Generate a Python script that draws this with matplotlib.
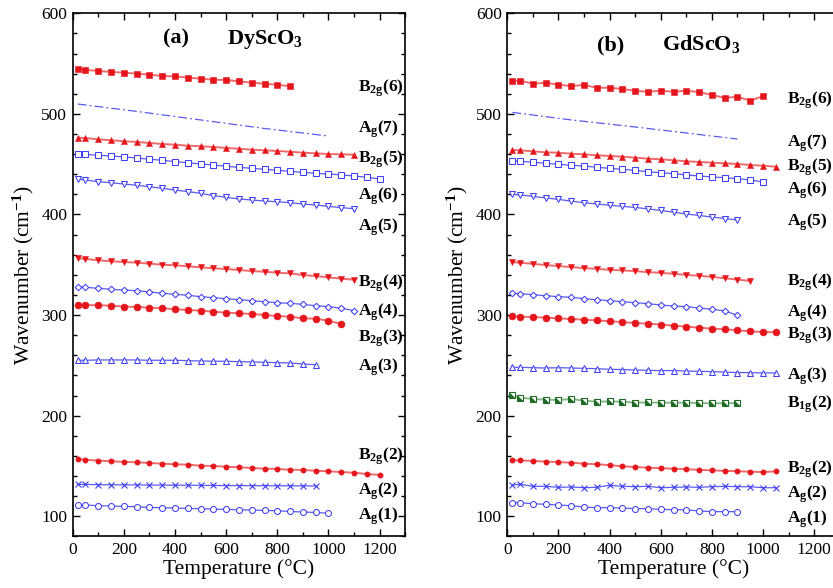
import matplotlib
matplotlib.use("Agg")
import matplotlib.pyplot as plt
from matplotlib.ticker import MultipleLocator

plt.rcParams['font.family'] = ['Liberation Serif', 'DejaVu Serif']
plt.rcParams['mathtext.fontset'] = 'custom'
plt.rcParams['mathtext.rm'] = 'Liberation Serif'
plt.rcParams['mathtext.it'] = 'Liberation Serif:italic'
plt.rcParams['mathtext.bf'] = 'Liberation Serif:bold'

# ---------------- data ----------------
TEMPS = [20, 50, 100, 150, 200, 250, 300, 350, 400, 450, 500, 550, 600, 650,
         700, 750, 800, 850, 900, 950, 1000, 1050, 1100, 1150, 1200]

# (a) DyScO3
dy_B2g6 = [544.6, 543.7, 542.7, 541.7, 541.0, 540.0, 539.0, 537.7, 537.4, 536.0,
           535.0, 534.0, 533.7, 532.4, 531.0, 530.0, 529.0, 527.4]
dy_Ag7_T = [20, 250, 500, 750, 1000]
dy_Ag7 = [509.8, 502.5, 494.0, 485.5, 478.0]
dy_B2g5 = [476.3, 476.0, 474.7, 473.8, 472.8, 472.1, 471.1, 470.1, 469.4, 468.4,
           467.8, 467.1, 466.1, 465.4, 464.4, 463.8, 463.1, 462.4, 461.4, 460.8,
           460.1, 459.8, 459.4]
dy_Ag6 = [460.1, 459.8, 458.8, 458.2, 457.2, 456.2, 454.9, 453.9, 452.5, 451.5,
          450.2, 449.2, 447.9, 446.9, 445.9, 444.9, 443.9, 442.9, 441.9, 440.9,
          440.3, 439.3, 438.3, 437.0, 435.3]
dy_Ag5 = [435.0, 434.3, 432.6, 431.6, 430.3, 429.0, 427.6, 426.0, 424.3, 422.7,
          421.1, 418.7, 417.1, 415.4, 414.4, 413.4, 412.7, 411.7, 410.4, 409.4,
          408.1, 406.8, 405.8]
dy_B2g4 = [356.5, 355.8, 354.5, 353.5, 352.8, 352.1, 351.1, 350.1, 349.5, 348.5,
           347.5, 346.5, 345.8, 344.8, 343.8, 343.1, 342.1, 341.5, 339.8, 338.8,
           337.5, 336.2, 335.2]
dy_Ag4 = [328.2, 327.6, 326.6, 325.6, 324.9, 324.3, 323.0, 321.7, 320.7, 319.7,
          318.3, 317.3, 316.3, 315.3, 314.3, 313.3, 312.3, 311.7, 310.7, 309.3,
          308.4, 306.8, 304.4]
dy_B2g3 = [310.0, 310.0, 309.7, 309.4, 308.4, 308.1, 307.4, 306.8, 305.8, 305.1,
           304.4, 303.4, 302.4, 301.8, 301.1, 300.1, 299.1, 298.4, 296.8, 296.4,
           294.4, 291.2]
dy_Ag3 = [255.1, 255.1, 255.4, 255.4, 255.4, 255.4, 255.1, 255.1, 255.1, 254.7,
          254.4, 254.1, 254.1, 253.7, 253.4, 253.1, 252.7, 252.4, 251.4, 250.7]
dy_B2g2 = [156.7, 156.3, 155.3, 154.7, 154.0, 153.7, 153.0, 152.3, 151.7, 151.3,
           150.3, 150.0, 149.3, 148.7, 148.0, 147.3, 147.0, 146.3, 146.0, 145.3,
           144.7, 144.0, 143.3, 142.0, 141.1]
dy_Ag2 = [131.8, 131.7, 131.4, 131.3, 131.2, 131.2, 131.0, 131.0, 130.9, 130.9,
          130.7, 130.7, 130.5, 130.5, 130.4, 130.4, 130.3, 130.3, 130.2, 130.1]
dy_Ag1 = [111.5, 111.2, 110.5, 110.2, 109.8, 109.5, 108.8, 108.5, 108.2, 107.8,
          107.5, 107.2, 106.8, 106.5, 106.2, 105.8, 105.5, 104.8, 104.2, 103.8,
          103.0]

# (b) GdScO3
gd_B2g6 = [532.7, 533.0, 530.0, 531.0, 529.0, 527.7, 528.7, 526.0, 526.0, 524.7,
           523.0, 522.0, 523.0, 522.0, 523.0, 521.7, 518.7, 516.0, 517.0, 513.1,
           517.7]
gd_Ag7_T = [20, 250, 500, 750, 900]
gd_Ag7 = [501.5, 494.0, 487.0, 479.5, 475.0]
gd_B2g5 = [464.1, 463.8, 462.8, 461.8, 461.4, 460.4, 459.8, 458.8, 458.2, 457.5,
           456.5, 455.5, 454.9, 453.9, 452.9, 452.2, 451.5, 450.9, 450.2, 449.2,
           448.5, 447.5]
gd_Ag6 = [453.5, 452.9, 451.9, 450.9, 449.9, 448.9, 448.2, 446.9, 445.9, 444.9,
          443.9, 442.5, 441.5, 440.6, 439.3, 438.3, 437.3, 436.6, 435.6, 434.3,
          432.3]
gd_Ag5 = [420.0, 419.4, 418.0, 416.5, 415.0, 413.3, 411.7, 410.5, 409.2, 408.1,
          407.0, 405.6, 404.0, 402.3, 400.5, 399.0, 397.5, 396.0, 394.5]
gd_B2g4 = [352.7, 352.0, 351.0, 349.7, 348.7, 347.7, 346.7, 346.0, 345.0, 344.4,
           343.7, 342.7, 342.0, 341.0, 340.0, 339.0, 338.0, 336.6, 335.3, 333.9]
gd_Ag4 = [321.7, 321.3, 320.3, 319.3, 318.3, 317.7, 316.3, 315.3, 314.3, 313.3,
          312.3, 311.4, 310.0, 309.0, 308.4, 307.0, 305.8, 304.1, 299.8]
gd_B2g3 = [299.1, 298.4, 298.1, 297.4, 296.8, 296.1, 295.4, 294.8, 293.8, 293.1,
           292.1, 291.5, 290.5, 289.5, 288.5, 287.5, 286.5, 285.9, 284.9, 283.9,
           283.2, 282.9]
gd_Ag3 = [248.1, 248.1, 247.7, 247.4, 247.7, 247.4, 247.1, 246.7, 246.1, 245.8,
          245.4, 245.1, 244.8, 244.8, 244.4, 244.1, 243.8, 243.4, 242.8, 242.8,
          242.5, 242.5]
gd_B1g2 = [220.3, 218.0, 216.6, 216.0, 215.6, 216.6, 214.9, 213.9, 214.2, 213.9,
           212.9, 213.2, 212.9, 212.9, 212.9, 212.6, 212.3, 212.3, 212.6]
gd_B2g2 = [155.7, 155.5, 155.0, 154.4, 153.8, 153.3, 152.3, 151.7, 150.9, 149.7,
           149.0, 148.3, 147.8, 147.3, 146.8, 146.2, 145.6, 145.2, 144.8, 144.3,
           144.0, 144.6]
gd_Ag2 = [131.1, 131.8, 129.8, 129.8, 128.8, 129.1, 128.4, 128.8, 130.8, 129.8,
          129.4, 129.8, 128.4, 128.8, 129.1, 128.8, 129.4, 129.8, 129.4, 129.4,
          128.4, 128.4]
gd_Ag1 = [113.5, 113.5, 112.5, 111.9, 111.2, 110.5, 109.2, 108.5, 108.5, 108.2,
          107.6, 107.6, 106.9, 106.6, 106.3, 105.3, 104.6, 104.6, 104.6]

# labels: (text, y-baseline)
dy_labels = [("B_{2g}(6)", 522.0), ("A_g(7)", 481.0), ("B_{2g}(5)", 452.0),
             ("A_g(6)", 414.8), ("A_g(5)", 383.5), ("B_{2g}(4)", 328.3),
             ("A_g(4)", 299.4), ("B_{2g}(3)", 273.8), ("A_g(3)", 245.3),
             ("B_{2g}(2)", 156.5), ("A_g(2)", 121.7), ("A_g(1)", 96.7)]
gd_labels = [("B_{2g}(6)", 510.5), ("A_g(7)", 467.2), ("B_{2g}(5)", 444.0),
             ("A_g(6)", 421.0), ("A_g(5)", 389.0), ("B_{2g}(4)", 329.0),
             ("A_g(4)", 298.4), ("B_{2g}(3)", 276.2), ("A_g(3)", 236.3),
             ("B_{1g}(2)", 208.0), ("B_{2g}(2)", 143.2), ("A_g(2)", 118.2),
             ("A_g(1)", 93.3)]

RED = '#e5151c'
RED_L = '#f06a6a'
BLUE = '#3f3ff5'
BLUE_L = '#5a5af0'
GREEN = '#1f6b25'
GREEN_L = '#86b98a'

W, H = 833, 588
fig = plt.figure(figsize=(W / 100, H / 100), dpi=100)
axL = fig.add_axes([72.7 / W, 1 - 536.4 / H, 332.5 / W, 523.1 / H])
axR = fig.add_axes([507.3 / W, 1 - 536.4 / H, 332.5 / W, 523.1 / H])


def red_filled(ax, vals, marker, ms=5):
    T = TEMPS[:len(vals)]
    ax.plot(T, vals, '-', color=RED_L, lw=1.4, zorder=2)
    ax.plot(T, vals, linestyle='none', marker=marker, ms=ms, color=RED,
            mec=RED, mew=0.4, zorder=3)


def blue_open(ax, vals, marker, ms=4):
    T = TEMPS[:len(vals)]
    ax.plot(T, vals, '-', color=BLUE_L, lw=0.9, zorder=2)
    ax.plot(T, vals, linestyle='none', marker=marker, ms=ms, mfc='white',
            mec=BLUE, mew=0.75, color=BLUE, zorder=3)


def blue_x(ax, vals):
    T = TEMPS[:len(vals)]
    ax.plot(T, vals, '-', color=BLUE_L, lw=0.9, zorder=2)
    ax.plot(T, vals, linestyle='none', marker='x', ms=3.8, mec=BLUE, mew=0.8,
            zorder=3)


def dashdot(ax, T, vals):
    ax.plot(T, vals, color=BLUE_L, lw=0.9, dashes=(7, 2.5, 1.5, 2.5), zorder=2)


def style(ax):
    ax.set_xlim(0, 1300)
    ax.set_ylim(80, 600)
    ax.xaxis.set_major_locator(MultipleLocator(200))
    ax.xaxis.set_minor_locator(MultipleLocator(100))
    ax.yaxis.set_major_locator(MultipleLocator(100))
    ax.yaxis.set_minor_locator(MultipleLocator(20))
    ax.tick_params(which='both', direction='in', top=True, right=True,
                   labelsize=12.5, width=1.0, pad=4)
    ax.tick_params(which='major', length=5)
    ax.tick_params(which='minor', length=3)
    for s in ax.spines.values():
        s.set_linewidth(1.2)
    ax.set_xlabel('Temperature (°C)', fontsize=15.5, labelpad=1)
    ax.set_ylabel(r'Wavenumber (cm$^{\mathbf{-1}}$)', fontsize=15.5, labelpad=4)


def labels(ax, items, x):
    for txt, y in items:
        ax.text(x, y, r'$\mathbf{' + txt + '}$', fontsize=12.5, va='baseline',
                ha='left', zorder=4)


# ---- (a) DyScO3 ----
red_filled(axL, dy_B2g6, 's', 5)
dashdot(axL, dy_Ag7_T, dy_Ag7)
red_filled(axL, dy_B2g5, '^', 5)
blue_open(axL, dy_Ag6, 's', 3.8)
blue_open(axL, dy_Ag5, 'v', 4.5)
red_filled(axL, dy_B2g4, 'v', 5)
blue_open(axL, dy_Ag4, 'D', 3.3)
red_filled(axL, dy_B2g3, 'o', 5)
blue_open(axL, dy_Ag3, '^', 4.5)
red_filled(axL, dy_B2g2, 'o', 3.8)
blue_x(axL, dy_Ag2)
blue_open(axL, dy_Ag1, 'o', 4.3)
style(axL)
labels(axL, dy_labels, 1117)
axL.text(353, 569.5, '(a)', fontsize=16, fontweight='bold', va='baseline')
axL.text(604, 569.5, r'$\mathbf{DyScO_3}$', fontsize=16, va='baseline')

# ---- (b) GdScO3 ----
red_filled(axR, gd_B2g6, 's', 5)
dashdot(axR, gd_Ag7_T, gd_Ag7)
red_filled(axR, gd_B2g5, '^', 5)
blue_open(axR, gd_Ag6, 's', 3.8)
blue_open(axR, gd_Ag5, 'v', 4.5)
red_filled(axR, gd_B2g4, 'v', 5)
blue_open(axR, gd_Ag4, 'D', 3.3)
red_filled(axR, gd_B2g3, 'o', 5)
blue_open(axR, gd_Ag3, '^', 4.5)
# B1g(2): green squares, half filled diagonally
T = TEMPS[:len(gd_B1g2)]
axR.plot(T, gd_B1g2, '-', color=GREEN_L, lw=1.4, zorder=2)
axR.plot(T, gd_B1g2, linestyle='none', marker='s', ms=4.3, mfc='white',
         mec=GREEN, mew=0.8, zorder=3)
axR.plot(T, gd_B1g2, linestyle='none',
         marker=[(-1, -1), (1, -1), (-1, 1), (-1, -1)], ms=3.8,
         mfc=GREEN, mec=GREEN, mew=0.2, zorder=4)
red_filled(axR, gd_B2g2, 'o', 3.8)
blue_x(axR, gd_Ag2)
blue_open(axR, gd_Ag1, 'o', 4.3)
style(axR)
labels(axR, gd_labels, 1092)
axR.text(350, 563.5, '(b)', fontsize=16, fontweight='bold', va='baseline')
axR.text(604, 563.5, r'$\mathbf{GdScO_3}$', fontsize=16, va='baseline')

fig.savefig('out.png', dpi=100)
